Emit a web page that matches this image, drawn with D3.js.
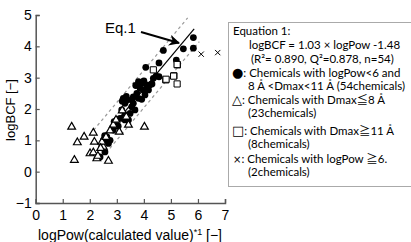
<!DOCTYPE html>
<html>
<head>
<meta charset="utf-8">
<script src="https://cdn.jsdelivr.net/npm/d3@7"></script>
<style>
  body { margin: 0; background: #fff; }
  svg { display: block; }
  .tick text { font-family: "Liberation Sans", Arial, sans-serif; font-size: 14px; fill: #000; }
  .legend text { font-family: Lato, "Noto Sans CJK JP", sans-serif; font-size: 11.5px; fill: #000; }
  .legend .sym { font-family: "DejaVu Sans", sans-serif; }
</style>
</head>
<body>
<svg id="chart"></svg>
<script>
const width = 411;
const height = 242;

// data: [logPow, logBCF]
const circles = [
  [5.83,4.28],[5.83,3.94],[5.46,3.92],[4.72,3.87],[5.2,3.56],[4.56,3.47],[4.07,3.33],
  [4.56,3.03],[4.35,2.98],[4.45,3.05],
  [3.8,2.87],[3.92,2.82],[4.1,2.77],[4.23,2.77],[3.86,2.66],[3.98,2.61],[4.17,2.61],[3.74,2.5],
  [4.04,2.45],[3.61,2.39],[3.8,2.34],[3.92,2.31],[4.0,2.9],[3.7,2.75],[4.3,2.8],
  [3.55,2.29],[3.37,2.29],[3.24,2.34],[3.3,2.18],[3.61,2.18],[3.55,2.07],[3.67,1.97],[3.49,1.86],
  [3.18,1.97],[3.3,1.81],[3.12,1.7],[3.3,1.65],[3.43,1.65],[3.0,1.65],[3.35,2.4],[3.2,2.25],
  [2.87,1.33],[2.63,1.11],[2.56,1.06],[2.69,0.9],[2.5,1.0],[2.44,0.8],[2.56,0.63],[2.38,0.47],
  [2.55,1.15],[2.75,1.0],[2.95,1.55],[3.05,1.45],[2.9,1.6]
];
const triangles = [
  [1.33,1.43],[1.54,0.93],[1.79,1.11],[1.43,0.37],[2.13,1.24],[2.17,0.95],[2.01,0.58],[2.13,0.61],
  [2.26,0.42],[2.69,0.34],[2.5,0.79],[2.87,1.49],[3.09,1.27],[3.43,1.49],[4.02,1.43],[2.97,1.65],
  [2.75,1.31],[2.45,0.95],[2.6,1.1],[2.4,0.75],[3.2,1.95],[3.35,1.75],[2.3,0.5]
];
const squares = [
  [4.35,3.25],[5.24,3.41],[4.81,2.93],[5.11,3.06],[5.23,2.8],[4.82,2.95],[5.23,3.42],[5.1,3.05]
];
const crosses = [[6.12,3.75],[6.73,3.8]];

const fitSlope = 1.03;
const fitIntercept = -1.48;
const fitRange = [2.45, 5.86];
const bandOffset = 0.6;
const upperRange = [2.0, 5.62];
const lowerRange = [2.6, 6.05];

const xTicks = [0,1,2,3,4,5,6,7];
const yTicks = [-1,0,1,2,3,4,5];

// legend rows: optional symbol, then text
const legendLines = [
  {x: 233, y: 31, sym: '', text: 'Equation 1:'},
  {x: 249, y: 45, sym: '', text: 'logBCF = 1.03 × logPow -1.48'},
  {x: 251, y: 59, sym: '', text: '(R²= 0.890, Q²=0.878, n=54)'},
  {x: 232, y: 73, sym: '●', text: ': Chemicals with logPow<6 and'},
  {x: 248, y: 86, sym: '', text: '8 Å <Dmax<11 Å (54chemicals)'},
  {x: 232, y: 100, sym: '△', text: ': Chemicals with Dmax≦8 Å'},
  {x: 248, y: 113, sym: '', text: '(23chemicals)'},
  {x: 232, y: 131, sym: '□', text: ': Chemicals with Dmax≧11 Å'},
  {x: 248, y: 144, sym: '', text: '(8chemicals)'},
  {x: 233, y: 159, sym: '×', text: ': Chemicals with logPow ≧6.'},
  {x: 248, y: 172, sym: '', text: '(2chemicals)'}
];

const svg = d3.select('#chart').attr('width', width).attr('height', height);
svg.append('rect').attr('width', width).attr('height', height).attr('fill', '#fff');

const x = d3.scaleLinear().domain([0, 7]).range([35.7, 225]);
const y = d3.scaleLinear().domain([-1, 5]).range([203, 15]);

// axes
svg.append('g').attr('transform', `translate(0, ${y(-1)})`)
  .call(d3.axisBottom(x).tickValues(xTicks).tickFormat(d3.format('d')).tickSize(-4).tickPadding(7));
svg.append('g').attr('transform', `translate(${x(0)}, 0)`)
  .call(d3.axisLeft(y).tickValues(yTicks).tickFormat(d3.format('d')).tickSize(-4).tickPadding(4));
svg.selectAll('.domain').attr('stroke', '#555').attr('stroke-width', 1.5);
svg.selectAll('.tick line').attr('stroke', '#555').attr('stroke-width', 1.2);

// fit line and band
const fit = v => fitSlope * v + fitIntercept;
const line = d3.line().x(d => x(d[0])).y(d => y(d[1]));
svg.append('path').datum(upperRange.map(v => [v, fit(v) + bandOffset]))
  .attr('d', line).attr('stroke', '#999').attr('stroke-width', 1.2).attr('stroke-dasharray', '3,3').attr('fill', 'none');
svg.append('path').datum(lowerRange.map(v => [v, fit(v) - bandOffset]))
  .attr('d', line).attr('stroke', '#999').attr('stroke-width', 1.2).attr('stroke-dasharray', '3,3').attr('fill', 'none');
svg.append('path').datum(fitRange.map(v => [v, fit(v)]))
  .attr('d', line).attr('stroke', '#000').attr('stroke-width', 1.2).attr('fill', 'none');

// points
svg.selectAll('circle.pt').data(circles).enter().append('circle')
  .attr('class', 'pt')
  .attr('cx', d => x(d[0])).attr('cy', d => y(d[1])).attr('r', 3.4).attr('fill', '#000');

svg.selectAll('path.tri').data(triangles).enter().append('path')
  .attr('class', 'tri')
  .attr('d', d3.symbol().type(d3.symbolTriangle).size(26))
  .attr('transform', d => `translate(${x(d[0])}, ${y(d[1])})`)
  .attr('fill', '#fff').attr('stroke', '#000').attr('stroke-width', 1.2);

svg.selectAll('path.sq').data(squares).enter().append('path')
  .attr('class', 'sq')
  .attr('d', d3.symbol().type(d3.symbolSquare).size(38))
  .attr('transform', d => `translate(${x(d[0])}, ${y(d[1])})`)
  .attr('fill', '#fff').attr('stroke', '#000').attr('stroke-width', 1);

svg.selectAll('path.cross').data(crosses).enter().append('path')
  .attr('class', 'cross')
  .attr('d', d3.symbol().type(d3.symbolX).size(20))
  .attr('transform', d => `translate(${x(d[0])}, ${y(d[1])})`)
  .attr('fill', 'none').attr('stroke', '#000').attr('stroke-width', 1);

// Eq.1 callout
svg.append('defs').append('marker')
  .attr('id', 'arrow').attr('viewBox', '0 0 10 10').attr('refX', 9).attr('refY', 5)
  .attr('markerWidth', 5.5).attr('markerHeight', 5.5).attr('orient', 'auto')
  .append('path').attr('d', 'M0,0 L10,5 L0,10 L3,5 Z').attr('fill', '#000');
svg.append('text').attr('x', 105).attr('y', 33)
  .attr('font-family', '"Liberation Sans", Arial, sans-serif').attr('font-size', 15)
  .text('Eq.1');
svg.append('line').attr('x1', 141).attr('y1', 32).attr('x2', 179).attr('y2', 43)
  .attr('stroke', '#000').attr('stroke-width', 2).attr('marker-end', 'url(#arrow)');

// axis titles
svg.append('text')
  .attr('transform', `translate(15, 110) rotate(-90)`)
  .attr('text-anchor', 'middle')
  .attr('font-family', '"Liberation Sans", Arial, sans-serif').attr('font-size', 13)
  .text('logBCF [−]');

const xTitle = svg.append('text').attr('x', 130).attr('y', 240)
  .attr('text-anchor', 'middle')
  .attr('font-family', '"Liberation Sans", Arial, sans-serif').attr('font-size', 14);
xTitle.append('tspan').text('logPow(calculated value)');
xTitle.append('tspan').attr('dy', -5).attr('font-size', 9).text('*1');
xTitle.append('tspan').attr('dy', 5).text(' [−]');

// legend box
const legend = svg.append('g').attr('class', 'legend');
legend.append('rect').attr('x', 228.5).attr('y', 22.5).attr('width', 190).attr('height', 164)
  .attr('fill', '#fff').attr('stroke', '#aaa').attr('stroke-width', 1);
const rows = legend.selectAll('text').data(legendLines).enter().append('text')
  .attr('x', d => d.x).attr('y', d => d.y).attr('dy', '0.35em');
rows.filter(d => d.sym).append('tspan').attr('class', 'sym')
  .attr('font-size', d => d.sym === '×' ? 10 : 13).text(d => d.sym);
rows.append('tspan').text(d => d.text);
</script>
</body>
</html>
